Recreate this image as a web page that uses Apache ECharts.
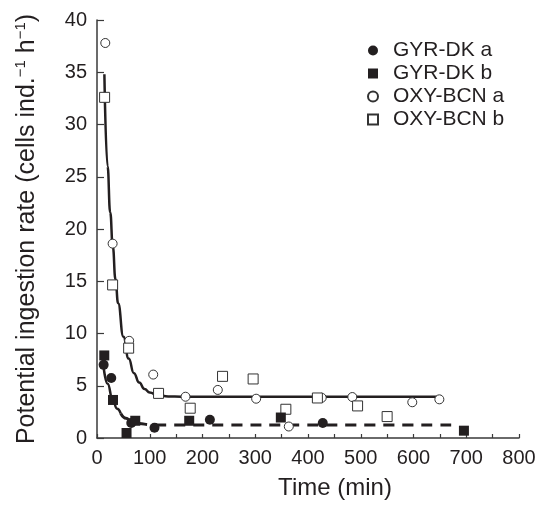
<!DOCTYPE html>
<html>
<head>
<meta charset="utf-8">
<script src="https://cdn.jsdelivr.net/npm/echarts@6/dist/echarts.min.js"></script>
<style>
html,body{margin:0;padding:0;background:#fff;}
#chart{width:542px;height:505px;}
</style>
</head>
<body>
<div id="chart"></div>
<script>
// Observed data (time in min, rate in cells ind.-1 h-1)
var gyrA = [[12.6,7.0],[27,5.75],[65,1.43],[109,0.98],[214,1.74],[428,1.43]];
var gyrB = [[13.8,7.9],[30.3,3.64],[56,0.48],[72.5,1.65],[174.8,1.65],[348.5,1.96],[695.6,0.7]];
var oxyA = [[15.7,37.8],[29.6,18.6],[61,9.3],[106.6,6.07],[167.8,3.95],[229,4.6],[301.7,3.76],[363.6,1.1],[426,3.85],[484,3.92],[597.7,3.42],[649,3.7]];
var oxyB = [[14.4,32.6],[29.6,14.65],[60,8.6],[116.7,4.27],[176.7,2.85],[238,5.9],[296,5.65],[358,2.75],[417.8,3.83],[494,3.07],[550,2.05]];
// Fitted curves
var curveOxy = [[14,34.8],[20,26.0],[25,21.6],[30,18.3],[35,15.2],[40,12.9],[50,9.7],[60,7.6],[70,6.2],[80,5.3],[90,4.7],[100,4.35],[115,4.1],[135,3.98],[160,3.95],[650,3.95]];
var curveGyrSteep = [[12,7.0],[20,5.2],[30,3.6],[38,2.8],[45,2.35]];
var curveGyrFlat = [[45,2.35],[55,1.9],[65,1.6],[80,1.38],[100,1.27],[130,1.24],[684,1.24]];
var seriesNames = ['GYR-DK a','GYR-DK b','OXY-BCN a','OXY-BCN b'];
var xTicks = {min:0, max:800, interval:100};
var yTicks = {min:0, max:40, interval:5};

var ink = '#231f20';
var font = 'Liberation Sans, Arial, Helvetica, sans-serif';
var chart = echarts.init(document.getElementById('chart'), null, {renderer:'canvas'});
chart.setOption({
  animation:false,
  backgroundColor:'#fff',
  textStyle:{fontFamily:font, color:ink},
  grid:{left:97, right:23, top:20, bottom:63, containLabel:false},
  legend:{
    orient:'vertical', left:362, top:35,
    itemWidth:10, itemHeight:10, itemGap:2,
    data:seriesNames,
    textStyle:{fontFamily:font, fontSize:21, color:ink, lineHeight:21, padding:[0,0,0,10]}
  },
  xAxis:{
    type:'value', min:xTicks.min, max:xTicks.max, interval:xTicks.interval,
    name:'Time (min)', nameLocation:'middle', nameGap:38,
    nameTextStyle:{fontFamily:font, fontSize:24, color:ink, padding:[0,0,0,54]},
    axisLine:{lineStyle:{color:'#3a3a3a', width:1.5}},
    axisTick:{inside:true, length:4, lineStyle:{color:'#3a3a3a', width:1.2}},
    minorTick:{show:true, splitNumber:2, length:4, lineStyle:{color:'#3a3a3a', width:1.2}},
    splitLine:{show:false},
    axisLabel:{fontFamily:font, fontSize:20, color:ink, margin:10}
  },
  yAxis:{
    type:'value', min:yTicks.min, max:yTicks.max, interval:yTicks.interval,
    name:'{n|Potential ingestion rate (cells ind.}{s|\u22121}{n| h}{s|\u22121}{n|)}',
    nameLocation:'middle', nameGap:55,
    nameTextStyle:{fontFamily:font, fontSize:25, color:ink,
      rich:{n:{fontFamily:font, fontSize:25, color:ink, lineHeight:29},
            s:{fontFamily:font, fontSize:15, color:ink, lineHeight:29, verticalAlign:'top', padding:[0,0,8,0]}}},
    axisLine:{show:true, lineStyle:{color:'#3a3a3a', width:1.5}},
    axisTick:{show:true, inside:true, length:7, lineStyle:{color:'#3a3a3a', width:1.2}},
    splitLine:{show:false},
    axisLabel:{fontFamily:font, fontSize:20, color:ink, margin:10}
  },
  series:[
    {type:'line', data:curveOxy, smooth:0.5, smoothMonotone:'x', showSymbol:false, silent:true, z:1,
     lineStyle:{color:ink, width:2.5}},
    {type:'line', data:curveGyrSteep, smooth:0.5, smoothMonotone:'x', showSymbol:false, silent:true, z:1,
     lineStyle:{color:ink, width:2.5}},
    {type:'line', data:curveGyrFlat, smooth:0.5, smoothMonotone:'x', showSymbol:false, silent:true, z:1,
     lineStyle:{color:ink, width:3, type:[11,8]}},
    {name:seriesNames[0], type:'scatter', data:gyrA, symbol:'circle', symbolSize:10, z:3,
     itemStyle:{color:ink, opacity:1}},
    {name:seriesNames[1], type:'scatter', data:gyrB, symbol:'rect', symbolSize:10, z:3,
     itemStyle:{color:ink, opacity:1}},
    {name:seriesNames[2], type:'scatter', data:oxyA, symbol:'circle', symbolSize:9, z:2,
     itemStyle:{color:'#fff', borderColor:'#333', borderWidth:1, opacity:1}},
    {name:seriesNames[3], type:'scatter', data:oxyB, symbol:'rect', symbolSize:10, z:2,
     itemStyle:{color:'#fff', borderColor:'#333', borderWidth:1, opacity:1}}
  ]
});
</script>
</body>
</html>
